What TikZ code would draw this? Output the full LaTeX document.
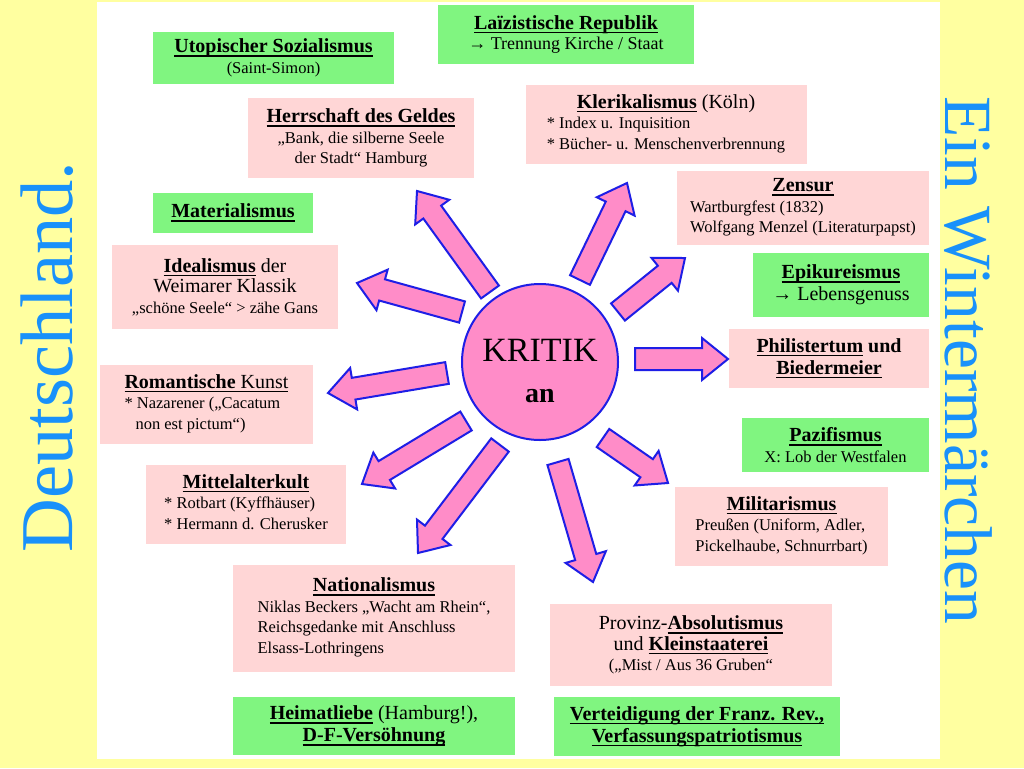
\documentclass[tikz,border=0pt]{standalone}
\usepackage{fontspec}
\setmainfont{Liberation Serif}
\newfontfamily\seitenschrift{Liberation Serif}
\usepackage{xcolor}
\definecolor{gelb}{RGB}{255,255,160}
\definecolor{gruen}{RGB}{128,245,128}
\definecolor{rosa}{RGB}{255,214,214}
\definecolor{pink}{RGB}{255,140,200}
\definecolor{blau}{RGB}{30,30,230}
\definecolor{himmel}{RGB}{25,145,250}
\usepackage{tikz}
\usetikzlibrary{calc}

\newcommand\gross{\fontsize{20}{22}\selectfont}
\newcommand\unterstr[1]{\leavevmode\setbox0=\hbox{#1}\rlap{\rule[-3.9pt]{\wd0}{1.4pt}}\box0}
\newcommand\titel[1]{{\bfseries\unterstr{#1}}}
\newcommand\liste[2]{\begin{tabular}{@{}l@{}}\multicolumn{1}{@{}c@{}}{#1}\\#2\end{tabular}}
% Blockpfeil vom Kreis weg: #1 Anfang, #2 Spitze
\newcommand\strahl[2]{%
  \coordinate (kopf) at ($(#2)!26pt!(#1)$);
  \draw[strahl] ($(#1)!11pt!90:(#2)$) -- ($(kopf)!11pt!90:(#2)$)
    -- ($(kopf)!21pt!90:(#2)$) -- (#2) -- ($(kopf)!21pt!-90:(#2)$)
    -- ($(kopf)!11pt!-90:(#2)$) -- ($(#1)!11pt!-90:(#2)$) -- cycle;}

\begin{document}
\begin{tikzpicture}[x=1pt,y=-1pt]
  \tikzstyle{kasten}=[rectangle,inner sep=0pt,align=center,font=\fontsize{16.5}{20.5}\selectfont]
  \tikzstyle{rosabox}=[kasten,fill=rosa]
  \tikzstyle{gruenbox}=[kasten,fill=gruen]
  \tikzstyle{strahl}=[draw=blau,fill=pink,line width=2pt,line join=miter]
  \tikzstyle{seite}=[text=himmel,inner sep=0pt]
  \useasboundingbox (0,0) rectangle (1024,768);
  \fill[gelb] (0,0) rectangle (1024,768);
  \fill[white] (97,2) rectangle (940,759);

  % Titel am Rand
  \node[seite,rotate=90,font=\seitenschrift\fontsize{74.5}{75}\selectfont] (deutschland) at (47,357) {Deutschland.};
  \node[seite,rotate=-90,font=\seitenschrift\fontsize{67.5}{68}\selectfont] (wintermaerchen) at (968,360) {Ein Wintermärchen};

  % gruene Kaesten
  \node[gruenbox,minimum width=241pt,minimum height=52pt] (utopie) at (273.5,58) {{\gross\titel{Utopischer Sozialismus}}\\(Saint-Simon)};
  \node[gruenbox,minimum width=256pt,minimum height=59pt] (laizismus) at (566,34.5) {{\gross\titel{Laïzistische Republik}}\\{\fontsize{18}{20}\selectfont → Trennung Kirche / Staat}};
  \node[gruenbox,minimum width=160pt,minimum height=40pt,font=\gross] (materie) at (233,213) {\titel{Materialismus}};
  \node[gruenbox,minimum width=176pt,minimum height=64pt,font=\gross] (epikur) at (841,285) {\titel{Epikureismus}\\→ Lebensgenuss};
  \node[gruenbox,minimum width=187pt,minimum height=54pt] (pazifismus) at (835.5,445) {{\gross\titel{Pazifismus}}\\X: Lob der Westfalen};
  \node[gruenbox,minimum width=282pt,minimum height=58pt,font=\gross] (heimat) at (374,726) {\titel{Heimatliebe} (Hamburg!),\\\titel{D-F-Versöhnung}};
  \node[gruenbox,minimum width=286pt,minimum height=59pt,font=\gross] (verteidigung) at (697,726.5) {\titel{Verteidigung der Franz. Rev.,}\\\titel{Verfassungspatriotismus}};

  % rosa Kaesten
  \node[rosabox,minimum width=226pt,minimum height=80pt] (geld) at (361,138) {{\gross\titel{Herrschaft des Geldes}}\\„Bank, die silberne Seele\\der Stadt“ Hamburg};
  \node[rosabox,minimum width=281pt,minimum height=79pt] (klerus) at (666,124.5) {\liste{\gross\titel{Klerikalismus} (Köln)}{{*} Index u. Inquisition\\{*} Bücher- u. Menschenverbrennung}};
  \node[rosabox,minimum width=252pt,minimum height=74pt] (zensur) at (803,208) {\liste{\gross\titel{Zensur}}{Wartburgfest (1832)\\Wolfgang Menzel (Literaturpapst)}};
  \node[rosabox,minimum width=226pt,minimum height=84pt] (ideal) at (225,287) {{\gross\titel{Idealismus} der}\\{\gross Weimarer Klassik}\\„schöne Seele“ > zähe Gans};
  \node[rosabox,minimum width=200pt,minimum height=59pt,font=\gross] (philister) at (829,358.5) {\titel{Philistertum} \textbf{und}\\\titel{Biedermeier}};
  \node[rosabox,minimum width=213pt,minimum height=79pt] (romantik) at (206.5,404.5) {\liste{\gross\unterstr{\textbf{Romantische} Kunst}}{{*} Nazarener („Cacatum\\\hspace*{11pt}non est pictum“)}};
  \node[rosabox,minimum width=200pt,minimum height=79pt] (mittelalter) at (246,504.5) {\liste{\gross\titel{Mittelalterkult}}{{*} Rotbart (Kyffhäuser)\\{*} Hermann d. Cherusker}};
  \node[rosabox,minimum width=213pt,minimum height=79pt] (militar) at (781.5,526.5) {\liste{\gross\titel{Militarismus}}{Preußen (Uniform, Adler,\\Pickelhaube, Schnurrbart)}};
  \node[rosabox,minimum width=282pt,minimum height=107pt] (nation) at (374,618.5) {\liste{\gross\titel{Nationalismus}}{Niklas Beckers „Wacht am Rhein“,\\Reichsgedanke mit Anschluss\\Elsass-Lothringens}};
  \node[rosabox,minimum width=282pt,minimum height=82pt] (provinz) at (691,645) {{\gross Provinz-\titel{Absolutismus}}\\{\gross und \titel{Kleinstaaterei}}\\(„Mist / Aus 36 Gruben“};

  % Kreis in der Mitte
  \node[circle,draw=blau,fill=pink,line width=2pt,minimum size=156pt] (kritik) at (540,362) {};
  \node[kasten,font=\fontsize{34}{40}\selectfont] (kritiktext) at (540,371) {KRITIK\\{\fontsize{28}{40}\selectfont\bfseries an}};

  % Pfeile
  \coordinate (s-geld) at (490,292);        \coordinate (z-geld) at (417,191);
  \coordinate (s-ideal) at (462,312);       \coordinate (z-ideal) at (357,283);
  \coordinate (s-klerus) at (580,280);      \coordinate (z-klerus) at (627,183);
  \coordinate (s-zensur) at (618,312);      \coordinate (z-zensur) at (685,258);
  \coordinate (s-philister) at (635,359);   \coordinate (z-philister) at (728,359);
  \coordinate (s-romantik) at (447,373);    \coordinate (z-romantik) at (328,393);
  \coordinate (s-mittelalter) at (466,421); \coordinate (z-mittelalter) at (362,484);
  \coordinate (s-nation) at (500,445);      \coordinate (z-nation) at (418,553);
  \coordinate (s-militar) at (603,438);     \coordinate (z-militar) at (668,483);
  \coordinate (s-provinz) at (558,462);     \coordinate (z-provinz) at (593,582);
  \foreach \z in {geld,ideal,klerus,zensur,philister,romantik,mittelalter,nation,militar,provinz}
    \strahl{s-\z}{z-\z};
\end{tikzpicture}
\end{document}
